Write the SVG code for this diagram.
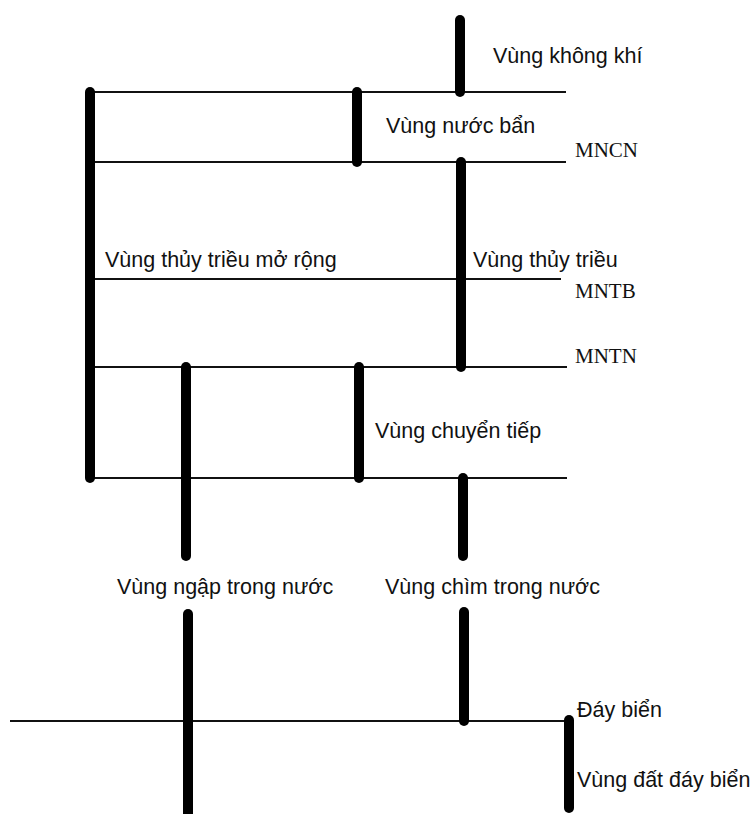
<svg xmlns="http://www.w3.org/2000/svg" width="754" height="814" viewBox="0 0 754 814">
<style>
.lvl{stroke:#111;stroke-width:2;fill:none}
.bar{stroke:#000;stroke-width:10;stroke-linecap:round;fill:none}
.t{font-family:"Liberation Sans",Arial,sans-serif;font-size:21.5px;fill:#111}
.s{font-family:"Liberation Serif","Times New Roman",serif;font-size:21px;fill:#111}
</style>
<rect width="754" height="814" fill="#fff"/>
<g id="levels">
<line class="lvl" x1="90" y1="92" x2="566" y2="92"/>
<line class="lvl" x1="90" y1="162" x2="566" y2="162"/>
<line class="lvl" x1="90" y1="279" x2="561" y2="279"/>
<line class="lvl" x1="90" y1="367" x2="567" y2="367"/>
<line class="lvl" x1="90" y1="478" x2="567" y2="478"/>
<line class="lvl" x1="10" y1="721" x2="568" y2="721"/>
</g>
<g id="level-labels">
<text class="s" x="575" y="157">MNCN</text>
<text class="s" x="575" y="298">MNTB</text>
<text class="s" x="575" y="363">MNTN</text>
<text class="t" x="577" y="717">Đáy biển</text>
</g>
<g id="vung-khong-khi">
<line class="bar" x1="460" y1="20" x2="460" y2="92"/>
<text class="t" x="493" y="63">Vùng không khí</text>
</g>
<g id="vung-nuoc-ban">
<line class="bar" x1="357" y1="92" x2="357" y2="162"/>
<text class="t" x="386" y="133">Vùng nước bẩn</text>
</g>
<g id="vung-thuy-trieu-mo-rong">
<line class="bar" x1="90" y1="92" x2="90" y2="478"/>
<text class="t" x="105" y="267">Vùng thủy triều mở rộng</text>
</g>
<g id="vung-thuy-trieu">
<line class="bar" x1="461" y1="162" x2="461" y2="367"/>
<text class="t" x="473" y="267">Vùng thủy triều</text>
</g>
<g id="vung-chuyen-tiep">
<line class="bar" x1="359" y1="367" x2="359" y2="478"/>
<text class="t" x="375" y="438">Vùng chuyển tiếp</text>
</g>
<g id="vung-ngap-trong-nuoc">
<line class="bar" x1="186" y1="367" x2="186" y2="556"/>
<line class="bar" x1="188" y1="614" x2="188" y2="822"/>
<text class="t" x="117" y="594">Vùng ngập trong nước</text>
</g>
<g id="vung-chim-trong-nuoc">
<line class="bar" x1="463" y1="478" x2="463" y2="556"/>
<line class="bar" x1="464" y1="612" x2="464" y2="721"/>
<text class="t" x="385" y="594">Vùng chìm trong nước</text>
</g>
<g id="vung-dat-day-bien">
<line class="bar" x1="569" y1="720" x2="569" y2="808"/>
<text class="t" x="577" y="787">Vùng đất đáy biển</text>
</g>
</svg>
